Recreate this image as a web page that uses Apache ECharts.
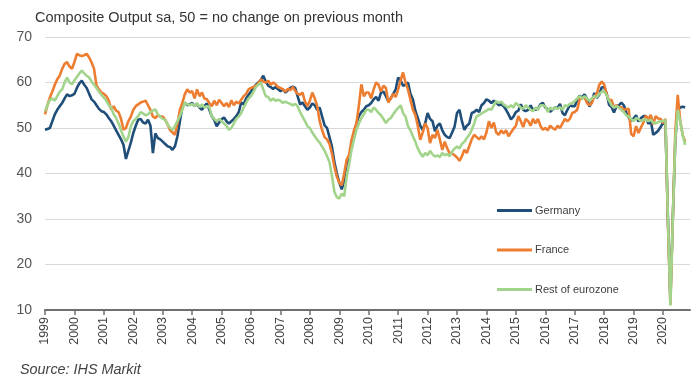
<!DOCTYPE html>
<html>
<head>
<meta charset="utf-8">
<script src="https://cdn.jsdelivr.net/npm/echarts@6/dist/echarts.min.js"></script>
<style>
html,body{margin:0;padding:0;background:#fff;}
#c{width:700px;height:384px;}
</style>
</head>
<body>
<div id="c"></div>
<script>
// Monthly categories Jan 1999 .. Dec 2020
var startYear = 1999, endYear = 2020;
var yearLabels = [];
for (var yy = startYear; yy <= endYear; yy++) yearLabels.push(String(yy));
var months = [];
for (var yi = 0; yi < yearLabels.length; yi++) {
  for (var mo = 1; mo <= 12; mo++) months.push(yearLabels[yi] + '-' + (mo < 10 ? '0' : '') + mo);
}

var yTicks = [10, 20, 30, 40, 50, 60, 70];

var germany = [
  49.6,49.8,50.0,51.5,53.0,54.0,54.8,55.5,56.5,57.4,57.0,57.2,
  57.5,58.8,59.8,60.4,59.5,58.8,57.5,56.3,55.8,55.0,54.2,53.7,
  53.5,53.0,52.2,51.5,50.5,49.5,48.5,47.5,46.3,43.2,45.0,46.8,
  48.9,50.5,51.8,52.0,51.2,51.0,51.8,50.5,44.5,48.8,47.8,47.5,
  47.0,46.5,46.0,45.8,45.2,46.0,48.2,51.5,54.5,55.6,55.0,55.2,
  55.5,54.8,55.3,54.5,54.0,54.8,55.4,54.0,52.6,51.8,50.4,51.2,
  51.9,52.3,51.5,51.0,51.5,52.0,52.6,53.5,55.6,55.2,56.5,57.3,
  58.0,58.8,59.5,60.0,60.5,61.5,60.2,59.3,59.0,58.6,59.0,58.5,
  58.1,58.5,57.8,58.3,58.8,59.1,58.8,57.0,55.2,55.6,54.8,54.0,
  54.5,55.4,55.0,54.0,54.5,52.5,50.6,50.0,48.0,45.9,42.5,40.0,
  38.0,36.5,38.5,42.2,43.5,45.9,48.5,51.0,52.6,53.5,54.0,54.8,
  55.0,55.5,56.3,56.8,56.0,57.8,58.0,57.0,55.9,56.5,57.5,58.5,
  61.1,60.5,59.3,59.5,60.0,57.5,56.3,53.8,52.2,50.5,49.6,51.0,
  53.3,52.0,51.5,49.3,50.5,51.0,49.5,48.5,48.0,47.8,49.0,50.3,
  53.3,54.0,51.5,49.6,50.5,51.0,53.3,53.5,54.0,53.5,55.0,55.5,
  56.3,56.0,55.5,56.0,55.6,55.0,55.2,54.8,54.0,53.0,51.9,52.5,
  53.5,53.8,55.2,54.0,53.7,54.0,55.0,54.0,54.0,54.2,55.2,55.5,
  54.5,54.1,53.6,54.0,54.5,54.4,55.3,53.3,52.8,54.0,55.0,54.8,
  54.8,56.1,57.1,56.7,57.4,56.4,54.7,55.8,57.7,56.6,57.3,58.9,
  59.0,57.6,55.1,54.6,53.4,54.8,55.0,55.6,55.0,53.4,52.3,51.6,
  52.1,52.8,51.4,52.2,52.6,52.6,50.9,51.7,48.5,48.9,49.4,50.2,
  51.2,50.7,30.0,12.5,30.5,47.0,55.3,54.4,54.7,54.5,null,null
];

var france = [
  53.0,55.0,56.7,58.0,59.5,60.7,61.5,63.0,64.1,64.5,63.5,63.0,
  64.5,66.3,66.0,65.8,66.0,66.3,65.5,64.4,63.0,59.3,58.5,57.8,
  57.5,57.0,56.0,54.0,54.8,53.8,53.5,52.0,49.6,50.0,51.5,52.5,
  54.0,54.8,55.2,55.6,55.8,56.0,55.0,54.0,52.5,52.2,52.8,52.5,
  52.5,51.8,50.8,49.5,49.0,48.5,51.0,54.0,55.5,57.4,58.5,57.8,
  58.1,56.5,58.5,57.0,57.8,56.5,56.3,55.5,54.8,56.0,55.0,56.2,
  55.5,54.8,55.5,54.6,56.1,55.0,55.8,55.4,56.2,57.0,57.5,58.5,
  58.8,59.0,59.3,59.8,60.7,60.2,60.0,60.4,59.5,60.0,59.6,59.0,
  58.8,58.5,58.0,58.6,58.3,59.0,58.2,57.5,57.3,57.8,55.8,54.8,
  56.0,57.8,56.5,54.8,51.5,49.5,48.0,47.5,46.5,44.4,41.5,39.3,
  38.0,37.4,40.0,43.0,44.1,47.4,49.5,51.0,55.0,59.6,57.0,57.8,
  57.8,56.5,58.5,60.0,59.5,58.0,59.3,58.8,55.6,56.5,57.5,56.8,
  58.5,60.5,62.2,60.0,58.5,56.3,54.0,52.9,50.5,47.4,49.0,51.0,
  50.0,46.7,48.5,47.8,49.6,47.5,45.2,47.0,45.5,44.5,44.4,44.0,
  43.5,42.8,43.8,45.2,44.5,46.0,47.5,48.5,48.0,47.5,48.2,47.5,
  49.0,51.5,50.0,51.2,49.0,48.5,49.5,48.8,49.5,48.2,49.0,49.8,
  50.5,52.6,51.5,50.2,52.0,51.5,50.5,52.0,51.0,52.0,50.5,49.6,
  50.0,49.5,50.5,50.0,49.6,50.5,50.0,51.0,52.0,51.5,52.0,53.3,
  53.5,54.0,56.3,56.5,56.8,55.5,55.0,55.5,57.0,57.5,59.5,60.2,
  59.6,57.5,56.0,56.2,54.5,55.0,54.5,54.6,54.0,54.1,54.2,48.7,
  48.2,50.4,48.9,50.1,51.2,52.7,51.9,52.9,50.8,52.6,52.1,52.0,
  51.1,52.0,28.9,11.1,30.0,49.0,57.3,51.6,48.5,47.0,null,null
];

var restOfEurozone = [
  53.7,55.0,56.2,56.5,56.0,57.0,58.0,58.5,60.0,61.1,60.0,59.6,
  60.5,61.2,62.0,62.6,62.0,61.5,61.1,60.2,59.5,58.8,58.0,57.3,
  56.7,56.0,55.0,54.5,53.0,52.2,51.0,49.5,48.1,47.0,48.0,50.4,
  51.5,52.0,52.6,53.5,53.2,52.8,53.0,53.5,53.8,54.1,53.0,52.5,
  52.0,51.8,50.8,50.0,49.6,50.5,51.5,52.6,54.0,55.6,55.2,55.0,
  55.3,54.8,55.5,54.6,55.2,54.5,54.8,54.6,52.6,52.0,51.5,52.0,
  51.5,51.0,50.5,49.6,50.0,51.0,52.0,52.5,53.3,54.5,55.5,56.5,
  57.0,58.0,59.0,59.5,60.0,58.5,57.0,56.8,56.0,56.5,56.0,56.2,
  56.0,55.5,55.8,55.5,55.3,55.0,55.3,54.8,53.5,52.5,51.5,50.4,
  50.0,49.0,48.2,47.4,46.8,45.9,45.0,43.8,42.5,39.5,36.0,34.8,
  34.5,35.6,35.0,39.3,42.0,45.2,47.5,49.6,51.0,52.2,53.0,54.0,
  54.0,53.5,54.5,54.0,53.3,52.8,52.0,51.1,51.8,52.2,53.0,53.8,
  54.4,55.0,53.3,52.5,50.4,49.5,48.2,47.0,45.5,44.5,43.7,44.5,
  44.0,45.0,44.2,43.7,44.0,43.6,44.5,44.0,44.3,43.8,44.8,45.5,
  45.9,45.5,46.5,47.0,47.8,48.5,49.6,51.0,52.6,52.8,53.2,53.5,
  53.8,54.2,54.0,55.0,55.9,55.5,55.8,55.2,54.8,54.5,55.0,54.5,
  55.5,55.0,54.5,54.2,55.0,54.5,54.0,53.7,54.5,54.0,55.0,55.0,
  54.8,53.5,54.5,54.0,54.5,54.2,54.6,54.0,55.0,54.8,55.3,55.5,
  55.9,56.5,57.0,56.5,57.0,56.5,56.0,56.5,57.0,56.8,57.5,58.0,
  58.0,57.2,56.0,55.0,54.5,54.8,54.5,54.0,53.5,52.8,52.5,52.0,
  51.5,52.2,52.0,51.5,51.8,51.9,51.5,51.8,51.2,51.0,51.3,51.5,
  51.5,51.8,30.0,11.0,30.0,47.5,54.0,51.5,48.5,46.3,null,null
];

var seriesNames = ['Germany', 'France', 'Rest of eurozone'];
var seriesColors = ['#1f4e79', '#ed7d31', '#a3d48c'];
var seriesData = [germany, france, restOfEurozone];

var chart = echarts.init(document.getElementById('c'), null, {renderer: 'canvas'});
var font = '"Liberation Sans", Arial, sans-serif';

var series = seriesNames.map(function (n, i) {
  return {
    name: n,
    type: 'line',
    data: seriesData[i],
    showSymbol: false,
    symbol: 'none',
    connectNulls: false,
    lineStyle: {width: 2.6, color: seriesColors[i]},
    itemStyle: {color: seriesColors[i]},
    emphasis: {disabled: true},
    z: 2 + i
  };
});

chart.setOption({
  animation: false,
  backgroundColor: '#ffffff',
  title: [
    {
      text: 'Composite Output sa, 50 = no change on previous month',
      left: 30, top: 5,
      textStyle: {fontFamily: font, fontSize: 14.5, fontWeight: 'normal', color: '#333333'}
    },
    {
      text: 'Source: IHS Markit',
      left: 15, top: 358,
      textStyle: {fontFamily: font, fontSize: 14.4, fontWeight: 'normal', fontStyle: 'italic', color: '#444444'}
    }
  ],
  legend: {
    orient: 'vertical',
    left: 492, top: 200,
    itemWidth: 35, itemHeight: 3,
    itemGap: 28.5,
    icon: 'rect',
    data: seriesNames,
    textStyle: {fontFamily: font, fontSize: 11, color: '#404040', padding: [0, 0, 0, -2]}
  },
  grid: {left: 45, right: 10, top: 37, bottom: 74, containLabel: false},
  xAxis: {
    type: 'category',
    data: months,
    boundaryGap: false,
    axisLine: {lineStyle: {color: '#6f6f6f', width: 2}},
    axisTick: {
      show: true, length: 5,
      interval: function (idx) { return idx % 12 === 0; },
      lineStyle: {color: '#6f6f6f', width: 1.5}
    },
    axisLabel: {
      interval: function (idx) { return idx % 12 === 0; },
      formatter: function (v) { return v.slice(0, 4); },
      rotate: 90,
      margin: 7,
      fontFamily: font, fontSize: 12.5, color: '#404040'
    },
    splitLine: {show: false}
  },
  yAxis: {
    type: 'value',
    min: yTicks[0], max: yTicks[yTicks.length - 1], interval: 10,
    axisLine: {show: false},
    axisTick: {show: false},
    axisLabel: {fontFamily: font, fontSize: 14, color: '#555555', margin: 13},
    splitLine: {lineStyle: {color: '#d9d9d9', width: 1}}
  },
  series: series
});
</script>
</body>
</html>
